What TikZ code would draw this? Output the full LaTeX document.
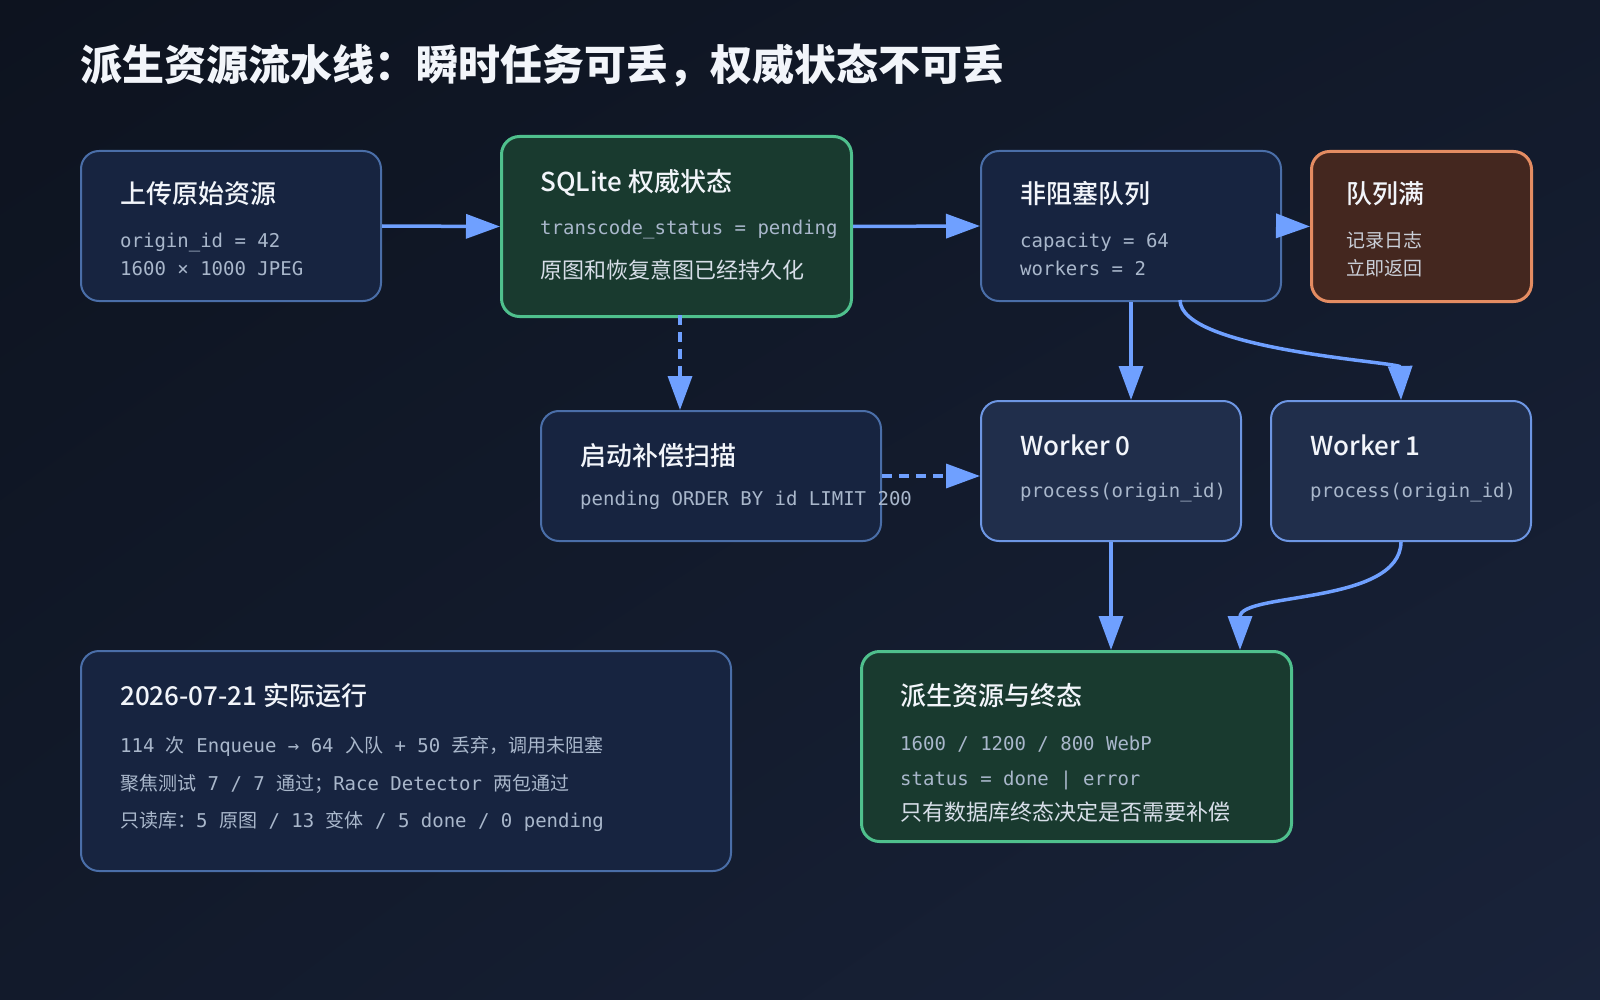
\documentclass[tikz,border=0pt]{standalone}
\usepackage{fontspec}
\usetikzlibrary{arrows.meta,shadings}
\setmainfont{Noto Sans CJK SC}
\newfontfamily\cjk{Noto Sans CJK SC}
\newfontfamily\cjkm{Noto Sans CJK SC}[UprightFont={* Medium}]
\newfontfamily\mono{DejaVu Sans Mono}
\definecolor{bgA}{HTML}{0D131F}
\definecolor{bgB}{HTML}{121A2B}
\definecolor{bgC}{HTML}{19233A}
\definecolor{boxFill}{HTML}{172440}
\definecolor{boxLine}{HTML}{4A6EA8}
\definecolor{wkFill}{HTML}{202E4B}
\definecolor{wkLine}{HTML}{6D96E3}
\definecolor{grFill}{HTML}{193A2F}
\definecolor{grLine}{HTML}{4FC08D}
\definecolor{orFill}{HTML}{44271F}
\definecolor{orLine}{HTML}{E48C62}
\definecolor{arrowC}{HTML}{6FA0FF}
\definecolor{headText}{HTML}{F2F5FA}
\definecolor{codeText}{HTML}{A9B7CB}
\definecolor{bodyText}{HTML}{D7DEE8}
\definecolor{noteText}{HTML}{CACFD8}
\tikzset{
  box/.style={rounded corners=18pt, line width=2pt, inner sep=0pt, anchor=north west},
  bluebox/.style={box, draw=boxLine, fill=boxFill},
  wkbox/.style={box, draw=wkLine, fill=wkFill},
  grbox/.style={box, draw=grLine, fill=grFill, line width=3pt},
  orbox/.style={box, draw=orLine, fill=orFill, line width=3pt},
  ttl/.style={anchor=base west, inner sep=0pt, text=headText, font=\cjkm\fontsize{26}{30}\selectfont},
  code/.style={anchor=base west, inner sep=0pt, text=codeText, font=\mono\fontsize{19}{22}\selectfont},
  body/.style={anchor=base west, inner sep=0pt, text=bodyText, font=\cjk\fontsize{22}{26}\selectfont},
  note/.style={anchor=base west, inner sep=0pt, text=noteText, font=\cjk\fontsize{19}{22}\selectfont},
  arr/.style={draw=arrowC, line width=3.5pt, -{Triangle[length=34pt,width=24pt]}},
  darr/.style={arr, dash pattern=on 10pt off 7pt},
}
\begin{document}
\begin{tikzpicture}[x=1pt, y=-1pt]
\shade[upper left=bgA, upper right=bgB, lower left=bgB, lower right=bgC] (0,0) rectangle (1600,1000);
\useasboundingbox (0,0) rectangle (1600,1000);

\node[anchor=base west, inner sep=0pt, text=headText, font=\cjk\bfseries\fontsize{42}{50}\selectfont] (title) at (80,81) {派生资源流水线：瞬时任务可丢，权威状态不可丢};

% boxes
\node[bluebox, minimum width=300pt, minimum height=150pt] (upload) at (80,150) {};
\node[grbox, minimum width=350pt, minimum height=180pt] (sqlite) at (500,135) {};
\node[bluebox, minimum width=300pt, minimum height=150pt] (queue) at (980,150) {};
\node[orbox, minimum width=220pt, minimum height=150pt] (full) at (1310,150) {};
\node[bluebox, minimum width=340pt, minimum height=130pt] (scan) at (540,410) {};
\node[wkbox, minimum width=260pt, minimum height=140pt] (w0) at (980,400) {};
\node[wkbox, minimum width=260pt, minimum height=140pt] (w1) at (1270,400) {};
\node[grbox, minimum width=430pt, minimum height=190pt] (derived) at (860,650) {};
\node[bluebox, minimum width=650pt, minimum height=220pt] (stats) at (80,650) {};

% texts
\node[ttl] (t1) at (120,204) {上传原始资源};
\node[code] (t1a) at (120,248) {origin\_id = 42};
\node[code] (t1b) at (120,276) {1600 × 1000 JPEG};

\node[ttl] (t2) at (540,192) {SQLite 权威状态};
\node[code] (t2a) at (540,235) {transcode\_status = pending};
\node[body] (t2b) at (540,278) {原图和恢复意图已经持久化};

\node[ttl] (t3) at (1020,204) {非阻塞队列};
\node[code] (t3a) at (1020,248) {capacity = 64};
\node[code] (t3b) at (1020,276) {workers = 2};

\node[ttl] (t4) at (1346,204) {队列满};
\node[note] (t4a) at (1346,248) {记录日志};
\node[note] (t4b) at (1346,276) {立即返回};

\node[ttl] (t5) at (580,465) {启动补偿扫描};
\node[code] (t5a) at (580,505) {pending ORDER BY id LIMIT 200};

\node[ttl] (t6) at (1020,455) {Worker 0};
\node[code] (t6a) at (1020,497) {process(origin\_id)};

\node[ttl] (t7) at (1310,455) {Worker 1};
\node[code] (t7a) at (1310,497) {process(origin\_id)};

\node[ttl] (t8) at (900,705) {派生资源与终态};
\node[code] (t8a) at (900,750) {1600 / 1200 / 800 WebP};
\node[code] (t8b) at (900,785) {status = done | error};
\node[body] (t8c) at (900,820) {只有数据库终态决定是否需要补偿};

\node[ttl] (t9) at (120,705) {2026-07-21 实际运行};
\node[code] (t9a) at (120,752) {114 {\cjk 次} Enqueue → 64 {\cjk 入队} + 50 {\cjk 丢弃，调用未阻塞}};
\node[code] (t9b) at (120,790) {{\cjk 聚焦测试} 7 / 7 {\cjk 通过；}Race Detector {\cjk 两包通过}};
\node[code] (t9c) at (120,827) {{\cjk 只读库：}5 {\cjk 原图} / 13 {\cjk 变体} / 5 done / 0 pending};

% connectors
\draw[arr] (upload.east) -- (sqlite.west);
\draw[arr] (sqlite.east) -- (queue.west);
\draw[arr] (queue.east) -- (full.west);
\coordinate (sq) at (680,315);
\draw[darr] (sq) -- (sq |- scan.north);
\draw[darr] (scan.east) -- (scan.east -| w0.west);
\draw[arr] (queue.south) -- (queue.south |- w0.north);
\coordinate (q1) at (1180,300);
\draw[arr] (q1) .. controls (1180,350) and (1400,362) .. (w1.north);
\draw[arr] (w0.south) -- (w0.south |- derived.north);
\coordinate (d2) at (1240,650);
\draw[arr] (w1.south) .. controls (1400,605) and (1240,592) .. (d2);
\end{tikzpicture}
\end{document}
